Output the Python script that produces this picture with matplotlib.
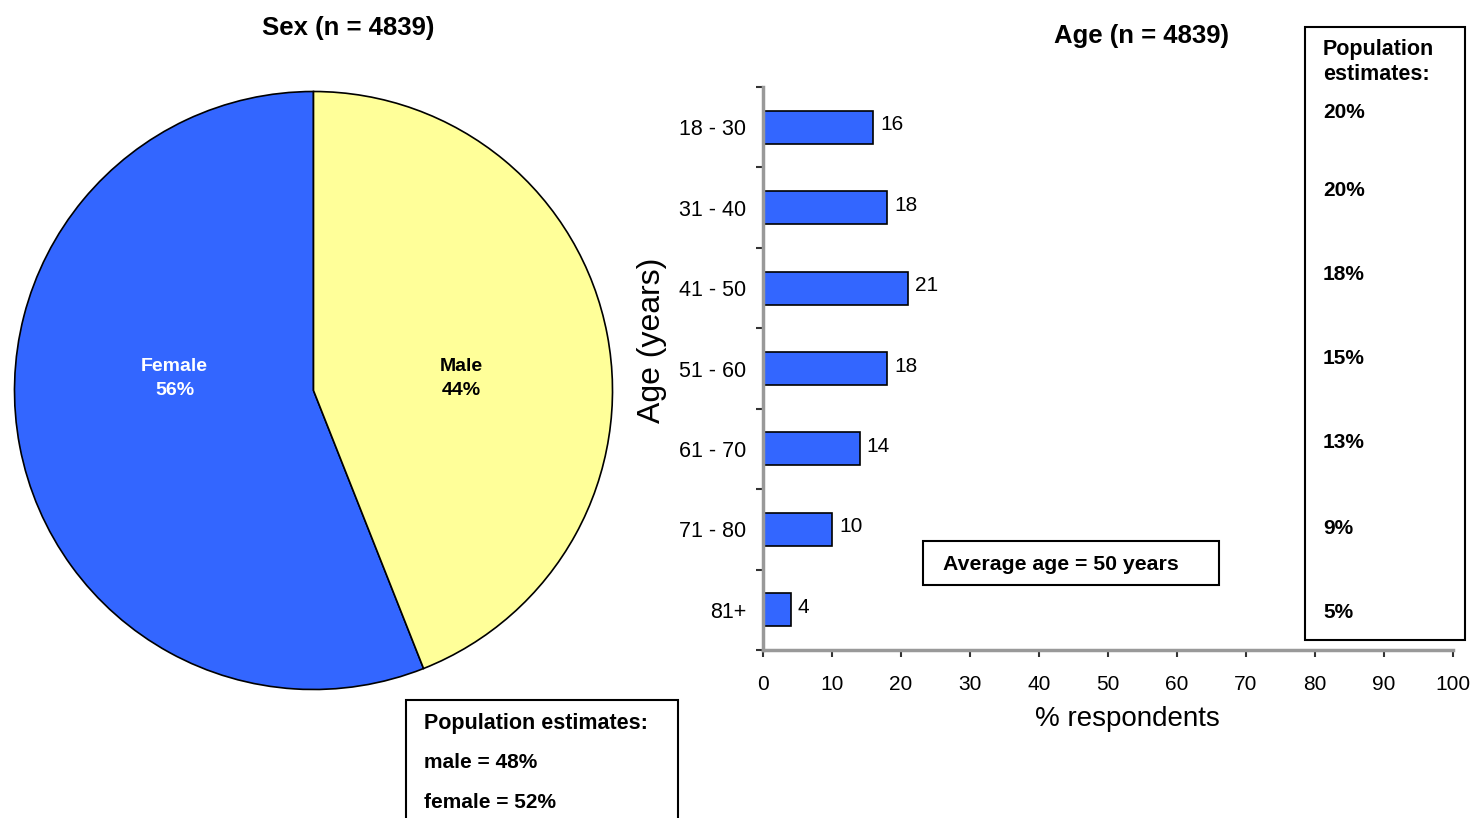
import matplotlib
matplotlib.use("Agg")
import matplotlib.pyplot as plt
from matplotlib.patches import Rectangle

plt.rcParams['font.family'] = ['Liberation Sans', 'DejaVu Sans']

# Sex split
sex_labels = ['Female', 'Male']
sex_pct = [56, 44]
sex_colors = ['#3366FF', '#FFFF99']
sex_pop = ['male = 48%', 'female = 52%']

# Age split
age_groups = ['18 - 30', '31 - 40', '41 - 50', '51 - 60', '61 - 70', '71 - 80', '81+']
age_pct = [16, 18, 21, 18, 14, 10, 4]
age_pop = ['20%', '20%', '18%', '15%', '13%', '9%', '5%']
x_ticks = [0, 10, 20, 30, 40, 50, 60, 70, 80, 90, 100]

W, H = 1472, 818
fig = plt.figure(figsize=(W / 100, H / 100), dpi=100)

def fx(px):
    return px / W

def fy(py):
    return 1 - py / H

# ---- pie ----
axp = fig.add_axes([fx(13), fy(691), fx(601), 601 / H])
wedges, _ = axp.pie(sex_pct, colors=sex_colors, startangle=90, counterclock=True,
                    wedgeprops=dict(edgecolor='black', linewidth=1.2))
axp.set_xlim(-1.005, 1.005)
axp.set_ylim(-1.005, 1.005)
axp.set_aspect('equal')
label_pos = [(-0.465, 0.04), (0.495, 0.04)]
label_cols = ['white', 'black']
for (x, y), name, p, c in zip(label_pos, sex_labels, sex_pct, label_cols):
    axp.text(x, y, f'{name}\n{p}%', ha='center', va='center', color=c,
             fontsize=14, fontweight='bold', linespacing=1.55)
fig.text(fx(348), fy(28), 'Sex (n = 4839)', ha='center', va='center',
         fontsize=18.5, fontweight='bold')

# population estimate box under the pie
fig.patches.append(Rectangle((fx(406), fy(830)), fx(272), (830 - 700) / H,
                             transform=fig.transFigure, fill=False,
                             edgecolor='black', linewidth=1.5))
fig.text(fx(424), fy(724), 'Population estimates:', ha='left', va='center',
         fontsize=15.5, fontweight='bold')
for i, s in enumerate(sex_pop):
    fig.text(fx(424), fy(762 + 40 * i), s, ha='left', va='center',
             fontsize=15, fontweight='bold')

# ---- bars ----
axb = fig.add_axes([fx(763), fy(650), fx(690), 563 / H])
ypos = list(range(len(age_groups)))
axb.barh(ypos, age_pct, height=0.41, color='#3366FF', edgecolor='black', linewidth=1.2)
for y, v in zip(ypos, age_pct):
    axb.text(v + 1, y - 0.03, str(v), ha='left', va='center', fontsize=15)
axb.set_xlim(0, 100)
axb.set_ylim(len(age_groups) - 0.5, -0.5)
axb.set_yticks(ypos)
axb.set_yticklabels(age_groups, fontsize=15.5)
axb.set_yticks([i - 0.5 for i in range(len(age_groups) + 1)], minor=True)
axb.tick_params(axis='y', which='major', length=0, pad=12)
axb.tick_params(axis='y', which='minor', length=5, width=1.5, color='#333333')
axb.set_xticks(x_ticks)
axb.tick_params(axis='x', length=5, width=1.5, color='#333333', labelsize=15, pad=13)
for side in ['top', 'right']:
    axb.spines[side].set_visible(False)
for side in ['left', 'bottom']:
    axb.spines[side].set_color('#999999')
    axb.spines[side].set_linewidth(2.5)
axb.set_xlabel('% respondents', fontsize=20)
axb.xaxis.set_label_coords((1127 - 763) / 690, -56 / 563)
axb.set_ylabel('Age (years)', fontsize=23)
axb.yaxis.set_label_coords((667 - 763) / 690, (650 - 340) / 563)
fig.text(fx(1141), fy(36), 'Age (n = 4839)', ha='center', va='center',
         fontsize=18.5, fontweight='bold')

# average age box
fig.patches.append(Rectangle((fx(923), fy(585)), fx(296), 44 / H,
                             transform=fig.transFigure, fill=False,
                             edgecolor='black', linewidth=1.5))
fig.text(fx(943), fy(565), 'Average age = 50 years', ha='left', va='center',
         fontsize=15.3, fontweight='bold')

# population estimate column
fig.patches.append(Rectangle((fx(1305), fy(640)), fx(160), 613 / H,
                             transform=fig.transFigure, fill=False,
                             edgecolor='black', linewidth=1.5))
fig.text(fx(1323), fy(62), 'Population\nestimates:', ha='left', va='center',
         fontsize=15.5, fontweight='bold', linespacing=1.25)
pop_y = [113, 191, 275, 359, 443, 528, 612]
for py, s in zip(pop_y, age_pop):
    fig.text(fx(1323), fy(py), s, ha='left', va='center',
             fontsize=15, fontweight='bold')

fig.savefig('out.png', dpi=100)
